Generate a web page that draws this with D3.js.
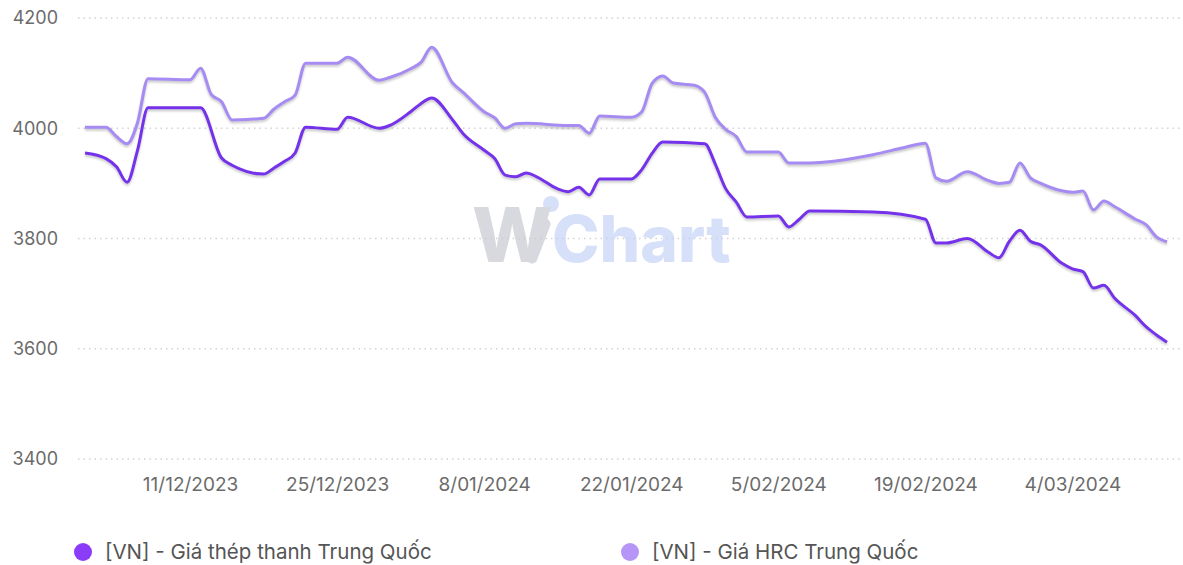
<!DOCTYPE html>
<html>
<head>
<meta charset="utf-8">
<script src="https://cdn.jsdelivr.net/npm/d3@7"></script>
<style>
  body { margin: 0; background: #fff; }
  svg { display: block; font-family: Inter, "Noto Sans", sans-serif; }
</style>
</head>
<body>
<div id="chart"></div>
<script>
// series names
var seriesNames = ["[VN] - Giá thép thanh Trung Quốc", "[VN] - Giá HRC Trung Quốc"];

// rebar (thép thanh) - dates and values
var rebarDates = ["2023-12-01","2023-12-03","2023-12-04","2023-12-05","2023-12-06","2023-12-07","2023-12-12","2023-12-14","2023-12-15","2023-12-18","2023-12-19","2023-12-20","2023-12-21","2023-12-22","2023-12-25","2023-12-26","2023-12-29","2023-12-30","2024-01-01","2024-01-02","2024-01-03","2024-01-05","2024-01-06","2024-01-08","2024-01-09","2024-01-10","2024-01-11","2024-01-12","2024-01-13","2024-01-15","2024-01-16","2024-01-17","2024-01-18","2024-01-19","2024-01-22","2024-01-23","2024-01-24","2024-01-25","2024-01-29","2024-01-30","2024-01-31","2024-02-01","2024-02-02","2024-02-05","2024-02-06","2024-02-07","2024-02-08","2024-02-14","2024-02-19","2024-02-20","2024-02-21","2024-02-23","2024-02-25","2024-02-26","2024-02-27","2024-02-28","2024-02-29","2024-03-01","2024-03-03","2024-03-04","2024-03-05","2024-03-06","2024-03-07","2024-03-08","2024-03-10","2024-03-11","2024-03-12","2024-03-13"];
var rebarValues = [3955,3945,3930,3902,3960,4037,4037,3946,3933,3917,3928,3940,3955,4002,3998,4020,4000,4005,4030,4045,4055,4015,3990,3960,3945,3915,3912,3919,3912,3890,3885,3893,3879,3908,3908,3925,3955,3975,3972,3935,3890,3866,3839,3841,3821,3835,3850,3848,3835,3792,3792,3800,3775,3765,3795,3815,3795,3788,3755,3745,3740,3710,3715,3692,3660,3640,3625,3612];

// HRC - dates and values
var hrcDates = ["2023-12-01","2023-12-03","2023-12-04","2023-12-05","2023-12-06","2023-12-07","2023-12-11","2023-12-12","2023-12-13","2023-12-14","2023-12-15","2023-12-18","2023-12-19","2023-12-20","2023-12-21","2023-12-22","2023-12-25","2023-12-26","2023-12-29","2023-12-30","2024-01-01","2024-01-02","2024-01-03","2024-01-05","2024-01-06","2024-01-08","2024-01-09","2024-01-10","2024-01-11","2024-01-12","2024-01-16","2024-01-17","2024-01-18","2024-01-19","2024-01-22","2024-01-23","2024-01-24","2024-01-25","2024-01-26","2024-01-28","2024-01-29","2024-01-30","2024-01-31","2024-02-01","2024-02-02","2024-02-05","2024-02-06","2024-02-08","2024-02-11","2024-02-14","2024-02-17","2024-02-19","2024-02-20","2024-02-21","2024-02-23","2024-02-25","2024-02-26","2024-02-27","2024-02-28","2024-02-29","2024-03-01","2024-03-02","2024-03-04","2024-03-05","2024-03-06","2024-03-07","2024-03-08","2024-03-10","2024-03-11","2024-03-12","2024-03-13"];
var hrcValues = [4002,4002,3985,3972,4010,4090,4088,4109,4062,4048,4015,4018,4035,4048,4060,4118,4118,4129,4087,4092,4108,4120,4147,4082,4065,4030,4019,4000,4008,4009,4005,4005,3991,4022,4020,4030,4082,4095,4082,4078,4065,4020,3998,3985,3957,3957,3937,3937,3942,3952,3965,3973,3910,3904,3921,3905,3900,3902,3937,3910,3900,3892,3884,3886,3852,3868,3858,3835,3825,3803,3794];

// axis ticks
var yTicks = [3400, 3600, 3800, 4000, 4200];
var xTickDates = ["2023-12-11","2023-12-25","2024-01-08","2024-01-22","2024-02-05","2024-02-19","2024-03-04"];

var colors = ["#7430ea", "#a68cf2"];
var legendColors = ["#8a3cf8", "#b595f5"];

var width = 1183, height = 565;
var parse = d3.timeParse("%Y-%m-%d");

var svg = d3.select("#chart")
    .append("svg")
    .attr("width", width)
    .attr("height", height);

var defs = svg.append("defs");
var f = defs.append("filter").attr("id", "shadow")
    .attr("x", "-5%").attr("y", "-20%").attr("width", "110%").attr("height", "140%");
f.append("feDropShadow")
    .attr("dx", 0).attr("dy", 2)
    .attr("stdDeviation", 1.2)
    .attr("flood-color", "#888")
    .attr("flood-opacity", 0.45);

var x = d3.scaleTime()
    .domain([parse("2023-12-01"), parse("2024-03-13")])
    .range([85, 1167]);

var y = d3.scaleLinear()
    .domain([3400, 4200])
    .range([459, 18]);

// grid lines
svg.append("g")
    .selectAll("line")
    .data(yTicks)
    .enter()
    .append("line")
    .attr("x1", 78)
    .attr("x2", 1180)
    .attr("y1", function (d) { return y(d); })
    .attr("y2", function (d) { return y(d); })
    .attr("stroke", "#d2d2d8")
    .attr("stroke-width", 1.3)
    .attr("stroke-dasharray", "1.5,4");

// y labels
svg.append("g")
    .selectAll("text")
    .data(yTicks)
    .enter()
    .append("text")
    .attr("x", 58)
    .attr("y", function (d) { return y(d); })
    .attr("dy", "0.35em")
    .attr("text-anchor", "end")
    .attr("font-size", "18px")
    .attr("fill", "#6b6b6b")
    .text(function (d) { return d; });

// x axis labels
var fmt = d3.timeFormat("%-d/%m/%Y");
var xAxis = d3.axisBottom(x)
    .tickValues(xTickDates.map(parse))
    .tickFormat(fmt)
    .tickSize(0)
    .tickPadding(0);
var gx = svg.append("g")
    .attr("transform", "translate(0,477)")
    .call(xAxis);
gx.select(".domain").remove();
gx.selectAll("text")
    .attr("font-family", "Inter, 'Noto Sans', sans-serif")
    .attr("font-size", "19px")
    .attr("fill", "#6b6b6b")
    .attr("dy", "0.75em");

// watermark
var wm = svg.append("g").attr("opacity", 0.7);
wm.append("line")
    .attr("x1", 532).attr("y1", 258)
    .attr("x2", 545).attr("y2", 224)
    .attr("stroke", "#c8c8d2")
    .attr("stroke-width", 11)
    .attr("stroke-linecap", "round");
wm.append("circle")
    .attr("cx", 551).attr("cy", 204).attr("r", 8)
    .attr("fill", "#c6d3f7");
var wmText = wm.append("text")
    .attr("y", 262)
    .attr("font-weight", 800);
wmText.append("tspan")
    .attr("x", 472)
    .attr("font-size", "76px")
    .attr("fill", "#c8c8d2")
    .text("W");
wmText.append("tspan")
    .attr("x", 552)
    .attr("font-size", "64px")
    .attr("fill", "#c6d3f7")
    .text("Chart");

// lines
var series = [
    { name: seriesNames[0], values: rebarDates.map(function (d, i) { return { date: parse(d), value: rebarValues[i] }; }) },
    { name: seriesNames[1], values: hrcDates.map(function (d, i) { return { date: parse(d), value: hrcValues[i] }; }) }
];

var line = d3.line()
    .curve(d3.curveMonotoneX)
    .x(function (d) { return x(d.date); })
    .y(function (d) { return y(d.value); });

svg.append("g")
    .selectAll("path")
    .data(series.slice().reverse())
    .enter()
    .append("path")
    .attr("d", function (d) { return line(d.values); })
    .attr("fill", "none")
    .attr("stroke", function (d) { return colors[seriesNames.indexOf(d.name)]; })
    .attr("stroke-width", 3)
    .attr("stroke-linejoin", "round")
    .attr("filter", "url(#shadow)");

// legend
var legendX = [83, 630];
var legend = svg.append("g")
    .selectAll("g")
    .data(seriesNames)
    .enter()
    .append("g")
    .attr("transform", function (d, i) { return "translate(" + legendX[i] + ",552)"; });
legend.append("circle")
    .attr("r", 9)
    .attr("fill", function (d, i) { return legendColors[i]; });
legend.append("text")
    .attr("x", 22)
    .attr("dy", "0.35em")
    .attr("font-size", "20.5px")
    .attr("fill", "#555")
    .text(function (d) { return d; });
</script>
</body>
</html>
